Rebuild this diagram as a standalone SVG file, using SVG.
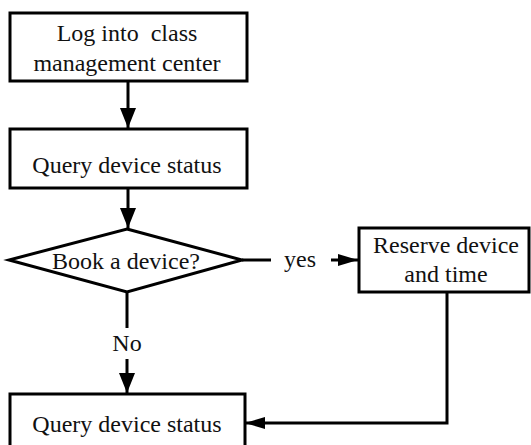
<svg xmlns="http://www.w3.org/2000/svg" width="531" height="445" viewBox="0 0 531 445">
<style>
.box{fill:#fff;stroke:#000;stroke-width:3}
.ln{fill:none;stroke:#000;stroke-width:3}
text{font-family:"Liberation Serif","Times New Roman",serif;font-size:24px;fill:#111;text-anchor:middle;white-space:pre}
</style>
<defs>
<marker id="ah" viewBox="0 0 20 16" refX="20" refY="8" markerWidth="20" markerHeight="16" markerUnits="userSpaceOnUse" orient="auto">
<path d="M0,0 L20,8 L0,16 z" fill="#000"/>
</marker>
<marker id="ahs" viewBox="0 0 20 12" refX="20" refY="6" markerWidth="20" markerHeight="12" markerUnits="userSpaceOnUse" orient="auto">
<path d="M0,0 L20,6 L0,12 z" fill="#000"/>
</marker>
</defs>
<g id="connectors">
<line class="ln" x1="128" y1="81" x2="128" y2="128" marker-end="url(#ah)"/>
<line class="ln" x1="128" y1="188" x2="128" y2="228" marker-end="url(#ah)"/>
<line class="ln" x1="242" y1="260" x2="271" y2="260"/>
<line class="ln" x1="331" y1="260" x2="358" y2="260" marker-end="url(#ahs)"/>
<line class="ln" x1="127" y1="292" x2="127" y2="328"/>
<line class="ln" x1="127" y1="359" x2="127" y2="393" marker-end="url(#ah)"/>
<polyline class="ln" points="447,293 447,423 245,423" marker-end="url(#ahs)"/>
<text x="300" y="267">yes</text>
<text x="127" y="351">No</text>
</g>
<g id="login">
<rect class="box" x="10" y="13" width="237" height="68"/>
<text x="127" y="41">Log into  class</text>
<text x="127" y="71">management center</text>
</g>
<g id="query1">
<rect class="box" x="10" y="129" width="237" height="59"/>
<text x="127" y="173">Query device status</text>
</g>
<g id="decision">
<polygon class="box" points="127,229 242,260 127,292 9,260"/>
<text x="126" y="269">Book a device?</text>
</g>
<g id="reserve">
<rect class="box" x="359" y="228" width="170" height="64"/>
<text x="446" y="253">Reserve device</text>
<text x="446" y="282">and time</text>
</g>
<g id="query2">
<rect class="box" x="10" y="394" width="235" height="60"/>
<text x="127" y="432">Query device status</text>
</g>
</svg>
